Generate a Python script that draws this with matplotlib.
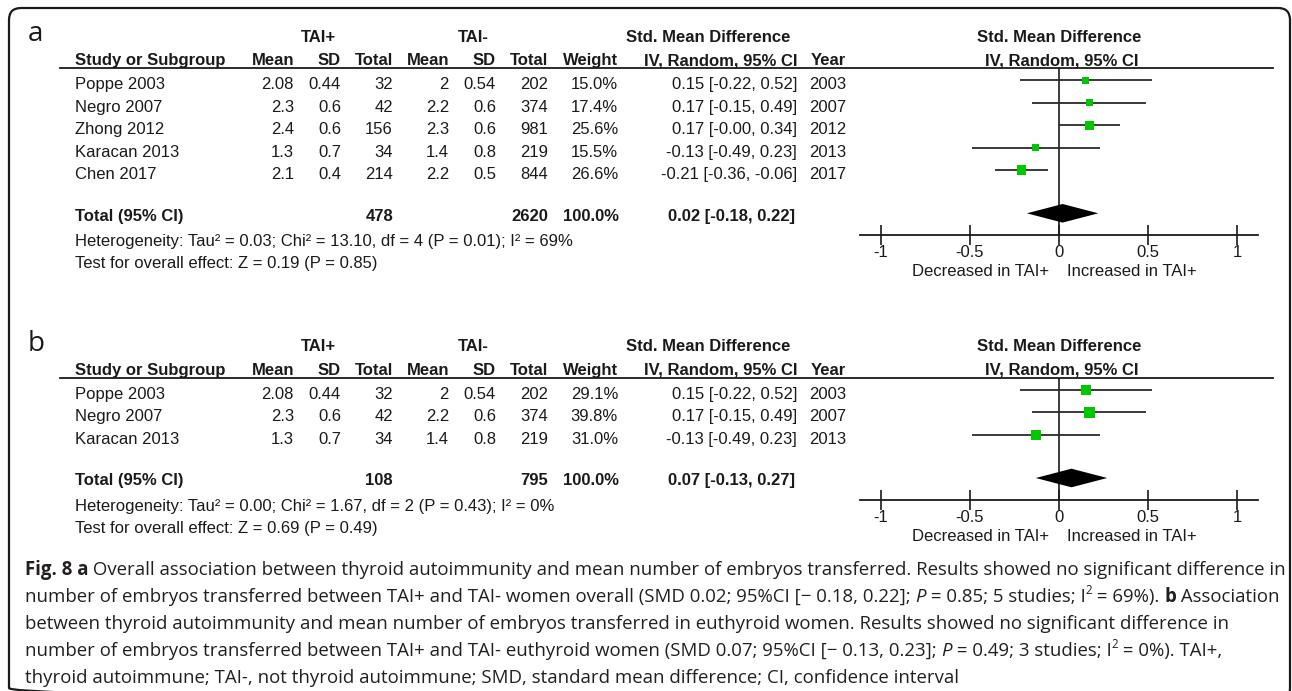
import math
import matplotlib.pyplot as plt
from matplotlib.patches import FancyBboxPatch

# --- panel a: all studies -------------------------------------------------
studies_a = ["Poppe 2003", "Negro 2007", "Zhong 2012", "Karacan 2013", "Chen 2017"]
mean_pos_a = [2.08, 2.3, 2.4, 1.3, 2.1]
sd_pos_a = [0.44, 0.6, 0.6, 0.7, 0.4]
n_pos_a = [32, 42, 156, 34, 214]
mean_neg_a = [2, 2.2, 2.3, 1.4, 2.2]
sd_neg_a = [0.54, 0.6, 0.6, 0.8, 0.5]
n_neg_a = [202, 374, 981, 219, 844]
weight_a = [15.0, 17.4, 25.6, 15.5, 26.6]
smd_a = [0.15, 0.17, 0.17, -0.13, -0.21]
lo_a = [-0.22, -0.15, -0.0, -0.49, -0.36]
hi_a = [0.52, 0.49, 0.34, 0.23, -0.06]
year_a = [2003, 2007, 2012, 2013, 2017]
pooled_a = (0.02, -0.18, 0.22)
het_a = "Heterogeneity: Tau² = 0.03; Chi² = 13.10, df = 4 (P = 0.01); I² = 69%"
test_a = "Test for overall effect: Z = 0.19 (P = 0.85)"

# --- panel b: euthyroid women ---------------------------------------------
studies_b = ["Poppe 2003", "Negro 2007", "Karacan 2013"]
mean_pos_b = [2.08, 2.3, 1.3]
sd_pos_b = [0.44, 0.6, 0.7]
n_pos_b = [32, 42, 34]
mean_neg_b = [2, 2.2, 1.4]
sd_neg_b = [0.54, 0.6, 0.8]
n_neg_b = [202, 374, 219]
weight_b = [29.1, 39.8, 31.0]
smd_b = [0.15, 0.17, -0.13]
lo_b = [-0.22, -0.15, -0.49]
hi_b = [0.52, 0.49, 0.23]
year_b = [2003, 2007, 2013]
pooled_b = (0.07, -0.13, 0.27)
het_b = "Heterogeneity: Tau² = 0.00; Chi² = 1.67, df = 2 (P = 0.43); I² = 0%"
test_b = "Test for overall effect: Z = 0.69 (P = 0.49)"

total_weight = "100.0%"
tick_vals = [-1, -0.5, 0, 0.5, 1]
tick_labels = ["-1", "-0.5", "0", "0.5", "1"]

caption = [
    [("Fig. 8 a", "b"), (" Overall association between thyroid autoimmunity and mean number of embryos transferred. Results showed no significant difference in", "")],
    [("number of embryos transferred between TAI+ and TAI- women overall (SMD 0.02; 95%CI [\u2212 0.18, 0.22]; ", ""), ("P", "i"),
     (" = 0.85; 5 studies; I", ""), ("2", "sup"), (" = 69%). ", ""), ("b", "b"), (" Association", "")],
    [("between thyroid autoimmunity and mean number of embryos transferred in euthyroid women. Results showed no significant difference in", "")],
    [("number of embryos transferred between TAI+ and TAI- euthyroid women (SMD 0.07; 95%CI [\u2212 0.13, 0.23]; ", ""), ("P", "i"),
     (" = 0.49; 3 studies; I", ""), ("2", "sup"), (" = 0%). TAI+,", "")],
    [("thyroid autoimmune; TAI-, not thyroid autoimmune; SMD, standard mean difference; CI, confidence interval", "")],
]

W, H = 1292, 691
plt.rcParams['font.family'] = ['Liberation Sans', 'DejaVu Sans']
plt.rcParams['font.size'] = 12
INK = '#1a1a1a'

fig = plt.figure(figsize=(W / 100, H / 100), dpi=100)
bg = fig.add_axes([0, 0, 1, 1])
bg.set_xlim(0, W)
bg.set_ylim(H, 0)
bg.axis('off')

bg.add_patch(FancyBboxPatch((9, 8), 1281, 692, boxstyle='round,pad=0,rounding_size=12',
                            fill=False, lw=1.6, ec=INK))

# right edges of table columns
col_x = [294, 341, 393, 449, 496, 548, 618, 797, 846]
X0, X1 = 860, 1258          # forest plot span in pixels
XLIM = (-1.115, 1.115)
GREEN = '#00c800'


def draw_panel(y0, letter, studies, mp, sp, np_, mn, sn, nn, wt, smd, lo, hi, yr,
               pooled, het, test):
    bg.text(28, y0 + 41, letter, fontsize=20, family='Open Sans', va='baseline', color=INK)
    hb1, hb2 = y0 + 41.7, y0 + 65
    bold = dict(weight='bold', va='baseline', color=INK)
    bg.text(318, hb1, "TAI+", ha='center', **bold)
    bg.text(473, hb1, "TAI-", ha='center', **bold)
    bg.text(708, hb1, "Std. Mean Difference", ha='center', **bold)
    bg.text(1059, hb1, "Std. Mean Difference", ha='center', **bold)
    bg.text(75, hb2, "Study or Subgroup", ha='left', **bold)
    heads = ["Mean", "SD", "Total", "Mean", "SD", "Total", "Weight", "IV, Random, 95% CI", "Year"]
    for x, h in zip(col_x, heads):
        bg.text(x, hb2, h, ha='right', **bold)
    bg.text(1062, hb2, "IV, Random, 95% CI", ha='center', **bold)
    line_y = y0 + 68
    bg.plot([60, 1273], [line_y, line_y], color=INK, lw=1.3)

    norm = dict(va='baseline', color=INK)
    rows = [y0 + 89.3 + 22.4 * i for i in range(len(studies))]
    for i, yb in enumerate(rows):
        bg.text(75, yb, studies[i], ha='left', **norm)
        cells = [f"{mp[i]:g}", f"{sp[i]:g}", str(np_[i]), f"{mn[i]:g}", f"{sn[i]:g}", str(nn[i]),
                 f"{wt[i]:.1f}%", f"{smd[i]:.2f} [{lo[i]:.2f}, {hi[i]:.2f}]", str(yr[i])]
        for x, c in zip(col_x, cells):
            bg.text(x, yb, c, ha='right', **norm)

    tot = rows[-1] + 41.8
    bg.text(75, tot, "Total (95% CI)", ha='left', **bold)
    bg.text(col_x[2], tot, str(sum(np_)), ha='right', **bold)
    bg.text(col_x[5], tot, str(sum(nn)), ha='right', **bold)
    bg.text(col_x[6] + 1, tot, total_weight, ha='right', **bold)
    est, plo, phi = pooled
    bg.text(795, tot, f"{est:.2f} [{plo:.2f}, {phi:.2f}]", ha='right', **bold)
    bg.text(75, tot + 25.5, het, ha='left', **norm)
    bg.text(75, tot + 47.3, test, ha='left', **norm)

    # forest plot, y in pixel units so rows line up with the table
    axis_y = tot + 14.3
    ax = fig.add_axes([X0 / W, 1 - axis_y / H, (X1 - X0) / W, (axis_y - line_y) / H])
    ax.set_xlim(*XLIM)
    ax.set_ylim(axis_y, line_y)
    ax.patch.set_visible(False)
    for s in ['top', 'left', 'right']:
        ax.spines[s].set_visible(False)
    ax.spines['bottom'].set_linewidth(1.3)
    ax.spines['bottom'].set_color(INK)
    ax.set_yticks([])
    ax.set_xticks(tick_vals)
    ax.set_xticklabels(tick_labels)
    ax.tick_params(axis='x', direction='inout', length=14, width=1.2, pad=0.5,
                   labelsize=12, colors=INK)
    ax.axvline(0, color=INK, lw=1.2)

    ys = [yb - 9 for yb in rows]
    ax.hlines(ys, lo, hi, color='#2a2a2a', lw=1.3)
    sizes = [(1.8 * math.sqrt(w) * 0.72) ** 2 for w in wt]
    ax.scatter(smd, ys, s=sizes, marker='s', color=GREEN, linewidths=0, zorder=3)

    yc = tot - 7.4
    ax.fill([plo, est, phi, est], [yc, yc - 9.3, yc, yc + 9.3], color='black', lw=0, zorder=3)

    bg.text(1049, axis_y + 41.2, "Decreased in TAI+", ha='right', **norm)
    bg.text(1067, axis_y + 41.2, "Increased in TAI+", ha='left', **norm)


draw_panel(0, "a", studies_a, mean_pos_a, sd_pos_a, n_pos_a, mean_neg_a, sd_neg_a, n_neg_a,
           weight_a, smd_a, lo_a, hi_a, year_a, pooled_a, het_a, test_a)
draw_panel(309.5, "b", studies_b, mean_pos_b, sd_pos_b, n_pos_b, mean_neg_b, sd_neg_b, n_neg_b,
           weight_b, smd_b, lo_b, hi_b, year_b, pooled_b, het_b, test_b)

# caption, drawn run by run so bold / italic / superscript pieces sit inline
renderer = fig.canvas.get_renderer()
CAP_INK = '#231f20'


def draw_runs(x, y, runs, size, measure=False):
    arts = []
    for txt, style in runs:
        kw = dict(fontsize=size, family='Open Sans', va='baseline', color=CAP_INK)
        yy = y
        if style == 'b':
            kw['weight'] = 'bold'
        elif style == 'i':
            kw['style'] = 'italic'
        elif style == 'sup':
            kw['fontsize'] = size * 0.62
            yy = y - size * 0.62
        t = bg.text(x, yy, txt, **kw)
        arts.append(t)
        x += t.get_window_extent(renderer).width
    if measure:
        for t in arts:
            t.remove()
    return x


cap_x = 25
width10 = draw_runs(cap_x, 0, caption[0], 10, measure=True) - cap_x
cap_size = 10 * (1283 - cap_x) / width10
for k, runs in enumerate(caption):
    draw_runs(cap_x, 575 + 27 * k, runs, cap_size)

fig.savefig("out.png", dpi=100)
